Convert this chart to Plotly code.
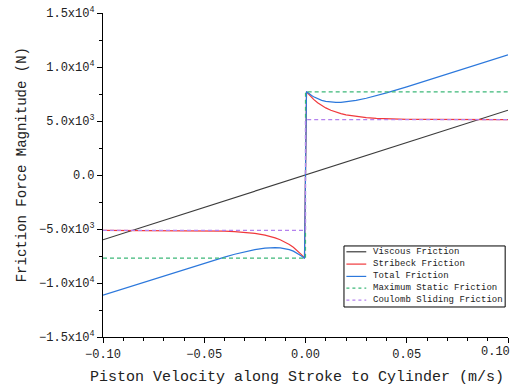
import plotly.graph_objects as go

# ---- data ----
visc_v = [-0.10, 0.10]
visc_f = [-6000, 6000]

strib_v = [-0.10, -0.09, -0.08, -0.07, -0.06, -0.05, -0.04, -0.035, -0.03, -0.025,
           -0.02, -0.0175, -0.015, -0.0125, -0.010, -0.008, -0.006, -0.004, -0.003,
           -0.002, -0.001, -0.0005,
           0.0005, 0.001, 0.002, 0.003, 0.004, 0.006, 0.008, 0.010, 0.0125, 0.015,
           0.0175, 0.02, 0.025, 0.03, 0.035, 0.04, 0.05, 0.06, 0.07, 0.08, 0.09, 0.10]
strib_f = [-5130, -5131, -5132, -5135, -5142, -5159, -5201, -5242, -5306, -5407,
           -5567, -5678, -5818, -5993, -6214, -6430, -6689, -6999, -7178,
           -7373, -7586, -7700,
           7700, 7586, 7373, 7178, 6999, 6689, 6430, 6214, 5993, 5818,
           5678, 5567, 5407, 5306, 5242, 5201, 5159, 5142, 5135, 5132, 5131, 5130]
total_f = [-11130, -10530, -9932, -9335, -8742, -8159, -7601, -7342, -7106, -6907,
           -6767, -6728, -6718, -6743, -6814, -6910, -7049, -7239, -7358,
           -7493, -7646, -7730,
           7730, 7646, 7493, 7358, 7239, 7049, 6910, 6814, 6743, 6718,
           6728, 6767, 6907, 7106, 7342, 7601, 8159, 8742, 9335, 9932, 10530, 11130]

static_v = [-0.10, 0.0, 0.0, 0.10]
static_f = [-7700, -7700, 7700, 7700]
coul_v = [-0.10, 0.0, 0.0, 0.10]
coul_f = [-5130, -5130, 5130, 5130]

names = ["Viscous Friction", "Stribeck Friction", "Total Friction",
         "Maximum Static Friction", "Coulomb Sliding Friction"]
colors = ["#3c3c3c", "#f0393c", "#2c78dc", "#3cb878", "#b482ee"]
dashes = ["solid", "solid", "solid", "4px,3px", "4px,3px"]

x_ticks = [-0.10, -0.05, 0.0, 0.05, 0.10]
x_ticktext = ["\u22120.10", "\u22120.05", "0.00", "0.05", "0.10"]
y_ticks = [-15000, -10000, -5000, 0, 5000, 10000, 15000]
y_ticktext = ["\u22121.5x10<sup>4</sup>", "\u22121.0x10<sup>4</sup>", "\u22125.0x10<sup>3</sup>",
              "0.0", "5.0x10<sup>3</sup>", "1.0x10<sup>4</sup>", "1.5x10<sup>4</sup>"]

FONT = "Liberation Mono"

series = [(visc_v, visc_f), (strib_v, strib_f), (strib_v, total_f),
          (static_v, static_f), (coul_v, coul_f)]

fig = go.Figure()
for (xv, yv), nm, c, d in zip(series, names, colors, dashes):
    fig.add_trace(go.Scatter(x=xv, y=yv, mode="lines", name=nm, showlegend=False,
                             line=dict(color=c, width=1.2, dash=d)))

fig.update_layout(
    width=521, height=390,
    margin=dict(l=103, r=13, t=13, b=53, autoexpand=False),
    paper_bgcolor="white", plot_bgcolor="white",
    font=dict(family=FONT, size=12, color="#222"),
)
# last x tick label is drawn separately (shifted left so it stays inside the page, as in the reference)
x_ticktext_axis = x_ticktext[:-1] + [""]
fig.update_xaxes(range=[-0.10, 0.100001], showgrid=False, zeroline=False, automargin=False,
                 showline=True, linecolor="black", linewidth=1.2,
                 ticks="outside", ticklen=5, tickwidth=1.2, tickcolor="black",
                 tickvals=x_ticks, ticktext=x_ticktext_axis,
                 minor=dict(ticks="outside", ticklen=3, tickwidth=1, tickcolor="black", dtick=0.01),
                 tickfont=dict(family=FONT, size=12, color="#222"))
fig.add_annotation(text=x_ticktext[-1], xref="x", yref="paper", x=x_ticks[-1], y=0,
                   xanchor="right", yanchor="top", xshift=4, yshift=-6, showarrow=False,
                   font=dict(family=FONT, size=12, color="#222"))
fig.update_yaxes(range=[-15000, 15000], showgrid=False, zeroline=False, automargin=False,
                 showline=True, linecolor="black", linewidth=1.2,
                 ticks="outside", ticklen=5, tickwidth=1.2, tickcolor="black",
                 tickvals=y_ticks, ticktext=y_ticktext,
                 minor=dict(ticks="outside", ticklen=3, tickwidth=1, tickcolor="black", dtick=2500),
                 tickfont=dict(family=FONT, size=12, color="#222"))

# axis titles
fig.add_annotation(text="Piston Velocity along Stroke to Cylinder (m/s)",
                   xref="paper", yref="paper", x=0.48, y=-0.125, yanchor="middle",
                   showarrow=False, font=dict(family=FONT, size=15, color="#222"))
fig.add_annotation(text="Friction Force Magnitude (N)", textangle=-90,
                   xref="paper", yref="paper", x=-0.2, xanchor="center", y=0.53,
                   showarrow=False, font=dict(family=FONT, size=14, color="#222"))

# legend (drawn manually to match compact style)
lx0, lx1, ly0, ly1 = 0.595, 0.993, 0.0926, 0.281
fig.add_shape(type="rect", xref="paper", yref="paper", x0=lx0, x1=lx1, y0=ly0, y1=ly1,
              line=dict(color="black", width=1), fillcolor="white", layer="above")
rows = [0.263, 0.225, 0.187, 0.151, 0.114]
for nm, c, d, ry in zip(names, colors, dashes, rows):
    fig.add_shape(type="line", xref="paper", yref="paper", x0=0.601, x1=0.650, y0=ry, y1=ry,
                  line=dict(color=c, width=1.2, dash="3px,3px" if d != "solid" else "solid"),
                  layer="above")
    fig.add_annotation(text=nm, xref="paper", yref="paper", x=0.662, y=ry,
                       xanchor="left", yanchor="middle", showarrow=False,
                       font=dict(family=FONT, size=9, color="#222"))

fig.write_html("out.html")
